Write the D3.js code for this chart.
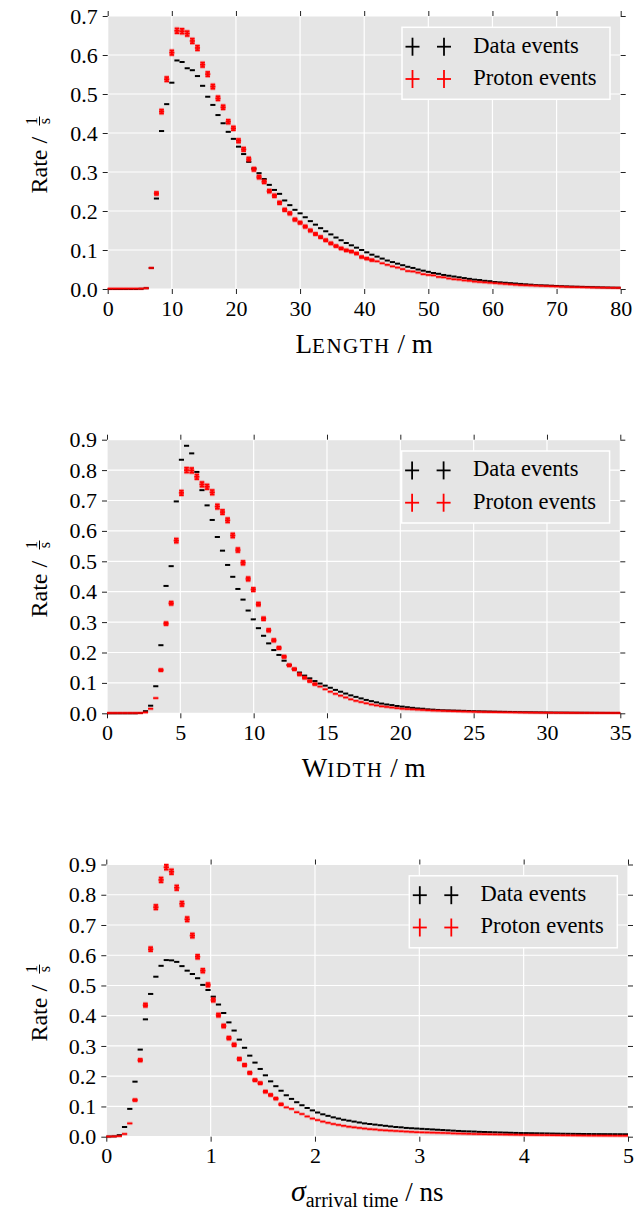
<!DOCTYPE html>
<html><head><meta charset="utf-8">
<script src="https://cdn.jsdelivr.net/npm/d3@7"></script>
<style>
body{margin:0;background:#fff}
svg{display:block}
text{font-family:"Liberation Serif","Times New Roman",serif;fill:#000}
</style>
</head><body><svg id="c" width="637" height="1216"></svg>
<script>
// ---------- data ----------
const seriesNames = ["Data events", "Proton events"];
const lengthTicksX = [0,10,20,30,40,50,60,70,80];
const lengthTicksY = [0,0.1,0.2,0.3,0.4,0.5,0.6,0.7];
const widthTicksX = [0,5,10,15,20,25,30,35];
const widthTicksY = [0,0.1,0.2,0.3,0.4,0.5,0.6,0.7,0.8,0.9];
const sigmaTicksX = [0,1,2,3,4,5];
const sigmaTicksY = [0,0.1,0.2,0.3,0.4,0.5,0.6,0.7,0.8,0.9];

const lengthData = [0,0,0,0,0,0,0.0005,0.002,
0.054,0.232,0.405,0.474,0.529,0.586,0.582,0.566,0.561,0.546,0.521,0.493,
0.472,0.446,0.425,0.403,0.385,0.365,0.346,0.326,0.309,0.297,
0.282,0.267,0.254,0.244,0.227,0.215,0.203,0.194,0.184,0.174,
0.165,0.156,0.148,0.140,0.132,0.125,0.118,0.112,0.106,0.100,
0.094,0.088,0.083,0.078,0.073,0.069,0.065,0.061,0.057,0.054,
0.050,0.047,0.044,0.041,0.039,0.036,0.034,0.032,0.030,0.028,
0.026,0.024,0.023,0.021,0.020,0.018,0.017,0.016,0.015,0.014,
0.013,0.012,0.011,0.010,0.0095,0.009,0.0083,0.0077,0.0072,0.0067,
0.0062,0.0058,0.0054,0.0050,0.0047,0.0044,0.0041,0.0038,0.0035,0.0033];
const lengthProton = [0.001,0.001,0.001,0.001,0.001,0.001,0.001,0.002,
0.054,0.245,0.455,0.538,0.606,0.662,0.661,0.655,0.636,0.618,0.575,0.551,
0.519,0.489,0.466,0.429,0.412,0.380,0.358,0.333,0.307,0.287,
0.275,0.251,0.239,0.221,0.203,0.194,0.178,0.170,0.160,0.150,
0.141,0.133,0.125,0.117,0.110,0.104,0.099,0.096,0.091,0.082,
0.078,0.074,0.071,0.066,0.062,0.058,0.055,0.051,0.046,0.045,
0.042,0.038,0.036,0.035,0.031,0.030,0.027,0.025,0.024,0.022,
0.021,0.019,0.018,0.017,0.016,0.015,0.014,0.013,0.012,0.011,
0.010,0.0095,0.009,0.0085,0.008,0.0075,0.007,0.0065,0.006,0.0055,
0.005,0.0047,0.0044,0.0041,0.0038,0.0036,0.0034,0.0032,0.003,0.0028];

const widthData = [0,0,0,0,0,0,0.001,0.007,0.025,0.089,
0.224,0.419,0.484,0.697,0.834,0.880,0.855,0.794,0.734,0.684,
0.636,0.580,0.535,0.488,0.449,0.409,0.374,0.338,0.309,0.280,
0.255,0.230,0.208,0.192,0.173,0.159,0.146,0.134,0.124,0.115,
0.106,0.098,0.091,0.084,0.077,0.071,0.065,0.059,0.054,0.049,
0.044,0.040,0.036,0.032,0.029,0.027,0.024,0.022,0.020,0.018,
0.016,0.015,0.013,0.012,0.011,0.010,0.0095,0.009,0.0085,0.008,
0.0075,0.007,0.0066,0.0062,0.0058,0.0054,0.005,0.0047,0.0044,0.0041,
0.0038,0.0036,0.0034,0.0032,0.003,0.0028,0.0026,0.0024,0.0023,0.0022,
0.002,0.0019,0.0018,0.0017,0.0016,0.0015,0.0014,0.0013,0.0012,0.0012];
const widthProton = [0.001,0.001,0.001,0.001,0.001,0.001,0.001,0.003,0.015,0.050,
0.142,0.295,0.362,0.568,0.725,0.800,0.799,0.778,0.753,0.745,
0.727,0.680,0.662,0.635,0.585,0.537,0.495,0.442,0.407,0.359,
0.311,0.273,0.240,0.215,0.186,0.158,0.145,0.128,0.117,0.106,
0.096,0.088,0.079,0.071,0.064,0.058,0.052,0.046,0.041,0.037,
0.033,0.029,0.026,0.023,0.021,0.019,0.017,0.015,0.014,0.013,
0.012,0.011,0.010,0.009,0.0085,0.008,0.0074,0.0068,0.0063,0.0058,
0.0054,0.005,0.0046,0.0043,0.004,0.0037,0.0034,0.0032,0.003,0.0028,
0.0026,0.0024,0.0022,0.0021,0.002,0.0019,0.0018,0.0017,0.0016,0.0015,
0.0014,0.0013,0.0012,0.0012,0.0011,0.0011,0.001,0.001,0.001,0.001];

const sigmaData = [0.0005,0.001,0.005,0.032,0.092,0.182,0.288,0.388,0.472,0.529,
0.565,0.584,0.583,0.578,0.564,0.549,0.538,0.524,0.502,0.485,
0.463,0.437,0.409,0.378,0.351,0.321,0.294,0.268,0.245,0.224,
0.203,0.183,0.167,0.152,0.137,0.125,0.114,0.104,0.095,0.087,
0.080,0.074,0.069,0.064,0.060,0.056,0.053,0.050,0.047,0.044,
0.042,0.040,0.038,0.036,0.034,0.032,0.031,0.029,0.028,0.027,
0.026,0.025,0.024,0.023,0.022,0.021,0.020,0.019,0.018,0.0175,
0.017,0.016,0.0155,0.015,0.0145,0.014,0.0135,0.013,0.0125,0.012,
0.0118,0.0115,0.0112,0.011,0.0107,0.0104,0.0101,0.0098,0.0096,0.0094,
0.0092,0.009,0.0088,0.0086,0.0085,0.0084,0.0083,0.0082,0.0081,0.008];
const sigmaProton = [0.0005,0.001,0.002,0.009,0.044,0.121,0.253,0.435,0.620,0.759,
0.849,0.891,0.876,0.823,0.770,0.719,0.665,0.595,0.549,0.502,
0.452,0.402,0.366,0.326,0.304,0.257,0.237,0.211,0.187,0.177,
0.149,0.138,0.126,0.107,0.097,0.092,0.081,0.075,0.067,0.060,
0.055,0.050,0.046,0.042,0.039,0.036,0.033,0.031,0.029,0.027,
0.025,0.024,0.022,0.021,0.020,0.019,0.018,0.017,0.016,0.015,
0.0145,0.014,0.0135,0.013,0.0125,0.012,0.011,0.0105,0.010,0.0095,
0.009,0.0087,0.0084,0.008,0.0077,0.0074,0.0071,0.0068,0.0065,0.0062,
0.006,0.0058,0.0056,0.0054,0.0052,0.005,0.0048,0.0046,0.0044,0.0042,
0.004,0.0038,0.0036,0.0035,0.0034,0.0033,0.0032,0.0031,0.003,0.003];

// ---------- drawing ----------
const svg = d3.select("#c");
const BG = "#e5e5e5";
const FONT = '"Liberation Serif","Times New Roman",serif';

function drawPanel(cfg){
  const x = d3.scaleLinear().domain([cfg.xTicks[0], cfg.xTicks[cfg.xTicks.length-1]]).range([cfg.left, cfg.right]);
  const y = d3.scaleLinear().domain([cfg.yTicks[0], cfg.yTicks[cfg.yTicks.length-1]]).range([cfg.bottom, cfg.top]);
  const g = svg.append("g");
  g.append("rect").attr("x", cfg.left).attr("y", cfg.top)
    .attr("width", cfg.right-cfg.left).attr("height", cfg.bottom-cfg.top).attr("fill", BG);
  // grid
  g.selectAll(".gx").data(cfg.xTicks).join("line")
    .attr("x1", d=>x(d)).attr("x2", d=>x(d)).attr("y1", cfg.top).attr("y2", cfg.bottom)
    .attr("stroke", "#fff").attr("stroke-width", 1.2);
  g.selectAll(".gy").data(cfg.yTicks).join("line")
    .attr("y1", d=>y(d)).attr("y2", d=>y(d)).attr("x1", cfg.left).attr("x2", cfg.right)
    .attr("stroke", "#fff").attr("stroke-width", 1.2);

  const styleAxis = sel => {
    sel.attr("font-family", FONT);
    sel.select(".domain").remove();
    sel.selectAll(".tick line").attr("stroke", "#222").attr("stroke-width", 1);
    sel.selectAll(".tick text").style("font-family", FONT).style("font-size", "22px").attr("fill", "#111");
  };
  g.append("g").attr("transform", `translate(0,${cfg.bottom})`)
    .call(d3.axisBottom(x).tickValues(cfg.xTicks).tickFormat(d3.format("d")).tickSize(5).tickSizeOuter(0).tickPadding(6))
    .call(styleAxis);
  g.append("g").attr("transform", `translate(0,${cfg.top})`)
    .call(d3.axisTop(x).tickValues(cfg.xTicks).tickFormat("").tickSize(5).tickSizeOuter(0))
    .call(styleAxis);
  g.append("g").attr("transform", `translate(${cfg.left},0)`)
    .call(d3.axisLeft(y).tickValues(cfg.yTicks).tickFormat(d3.format(".1f")).tickSize(5).tickSizeOuter(0).tickPadding(5))
    .call(styleAxis);
  g.append("g").attr("transform", `translate(${cfg.right},0)`)
    .call(d3.axisRight(y).tickValues(cfg.yTicks).tickFormat("").tickSize(5).tickSizeOuter(0))
    .call(styleAxis);

  // bins
  const x0 = x.domain()[0], n = cfg.data.length;
  const bw = (x.domain()[1]-x0)/n;
  const binsOf = arr => {
    const peak = d3.max(arr);
    return arr.map((v,i)=>({a:x0+i*bw, b:x0+(i+1)*bw, c:x0+(i+0.5)*bw, v, e:2.4*Math.sqrt(v/peak)}));
  };
  const dataBins = binsOf(cfg.data), protBins = binsOf(cfg.proton);

  // data events (black)
  g.append("g").selectAll("line").data(dataBins).join("line")
    .attr("x1", d=>x(d.a)).attr("x2", d=>x(d.b)).attr("y1", d=>y(d.v)).attr("y2", d=>y(d.v))
    .attr("stroke", "#000").attr("stroke-width", 2);

  // proton events (red with error bars)
  const pg = g.append("g");
  const drawErr = (sel, color, w) => {
    sel.append("line").attr("x1", d=>x(d.a)).attr("x2", d=>x(d.b)).attr("y1", d=>y(d.v)).attr("y2", d=>y(d.v))
      .attr("stroke", color).attr("stroke-width", w);
    const big = sel.filter(d=>d.e > 0.8);
    big.append("line").attr("x1", d=>x(d.c)).attr("x2", d=>x(d.c)).attr("y1", d=>y(d.v)-d.e).attr("y2", d=>y(d.v)+d.e)
      .attr("stroke", color).attr("stroke-width", w);
    big.append("line").attr("x1", d=>x(d.c)-2.3).attr("x2", d=>x(d.c)+2.3).attr("y1", d=>y(d.v)-d.e).attr("y2", d=>y(d.v)-d.e)
      .attr("stroke", color).attr("stroke-width", w);
    big.append("line").attr("x1", d=>x(d.c)-2.3).attr("x2", d=>x(d.c)+2.3).attr("y1", d=>y(d.v)+d.e).attr("y2", d=>y(d.v)+d.e)
      .attr("stroke", color).attr("stroke-width", w);
  };
  const halo = pg.append("g").selectAll("g").data(protBins).join("g");
  drawErr(halo, "rgba(255,0,0,0.3)", 3.4);
  const core = pg.append("g").selectAll("g").data(protBins).join("g");
  drawErr(core, "#ff0000", 1.6);

  // legend
  const lw = 208, lh = 72;
  const lx = cfg.right - 10.7 - lw, ly = cfg.top + 11.3;
  const lg = g.append("g").attr("transform", `translate(${lx},${ly})`);
  lg.append("rect").attr("width", lw).attr("height", lh).attr("fill", BG).attr("stroke", "#fff").attr("stroke-width", 1.5);
  const rows = [{name: seriesNames[0], color:"#000", cy:19.4}, {name: seriesNames[1], color:"#ff0000", cy:51.7}];
  rows.forEach(r=>{
    [10.5, 42].forEach(cx=>{
      lg.append("line").attr("x1", cx-7).attr("x2", cx+7).attr("y1", r.cy).attr("y2", r.cy).attr("stroke", r.color).attr("stroke-width", 1.8);
      lg.append("line").attr("x1", cx).attr("x2", cx).attr("y1", r.cy-9).attr("y2", r.cy+9).attr("stroke", r.color).attr("stroke-width", 1.8);
    });
    lg.append("text").attr("x", 71.3).attr("y", r.cy+6).style("font-family", FONT).style("font-size", "22.5px").text(r.name);
  });

  // y label
  const cy = (cfg.top+cfg.bottom)/2;
  const yl = g.append("g").attr("transform", `translate(47,${cy}) rotate(-90)`);
  yl.append("text").attr("x", -41).attr("y", 0).style("font-size", "24px").text("Rate /");
  yl.append("line").attr("x1", 27).attr("x2", 36).attr("y1", -7.5).attr("y2", -7.5).attr("stroke", "#000").attr("stroke-width", 1);
  yl.append("text").attr("x", 31.5).attr("y", -10.5).attr("text-anchor", "middle").style("font-size", "16px").text("1");
  yl.append("text").attr("x", 31.5).attr("y", 3).attr("text-anchor", "middle").style("font-size", "16px").text("s");

  // x label
  const xl = g.append("text").attr("x", (cfg.left+cfg.right)/2).attr("y", cfg.bottom+64).attr("text-anchor", "middle").style("font-size", "27px");
  cfg.xLabel(xl);
}

drawPanel({left:107.7, right:620.7, top:16, bottom:289, xTicks:lengthTicksX, yTicks:lengthTicksY,
  data:lengthData, proton:lengthProton,
  xLabel: t => { t.append("tspan").text("L"); t.append("tspan").style("font-size","21px").style("letter-spacing","1.5px").text("ENGTH"); t.append("tspan").text(" / m"); }});
drawPanel({left:107, right:620.3, top:439.7, bottom:713.3, xTicks:widthTicksX, yTicks:widthTicksY,
  data:widthData, proton:widthProton,
  xLabel: t => { t.append("tspan").text("W"); t.append("tspan").style("font-size","21px").style("letter-spacing","1.5px").text("IDTH"); t.append("tspan").text(" / m"); }});
drawPanel({left:106.3, right:628, top:864.5, bottom:1136.7, xTicks:sigmaTicksX, yTicks:sigmaTicksY,
  data:sigmaData, proton:sigmaProton,
  xLabel: t => { t.append("tspan").style("font-style","italic").style("font-size","30px").text("σ");
    t.append("tspan").attr("dy", 6).style("font-size","20px").text("arrival time");
    t.append("tspan").attr("dy", -6).text(" / ns"); }});
</script>
</body></html>
